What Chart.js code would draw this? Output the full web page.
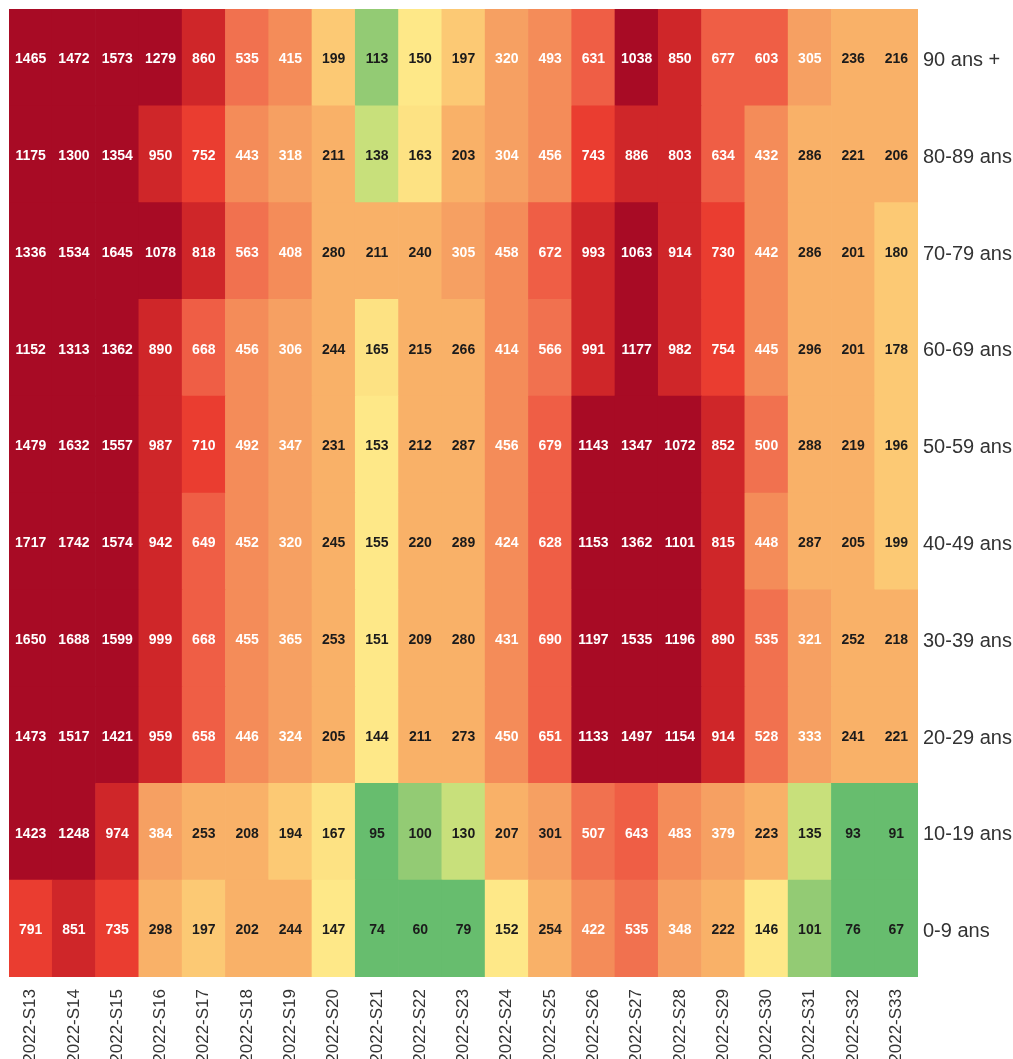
<!DOCTYPE html>
<html lang="fr">
<head>
<meta charset="utf-8">
<title>Cas par classe d'âge et par semaine</title>
<script src="https://cdn.jsdelivr.net/npm/chart.js@4.4.1/dist/chart.umd.min.js"></script>
<style>
  html, body { margin: 0; padding: 0; background: #ffffff; overflow: hidden; }
  #wrap { position: relative; width: 1013px; height: 1059px; }
</style>
</head>
<body>
<div id="wrap"><canvas id="heat"></canvas></div>
<script>
// Weeks (columns) and age groups (rows, top to bottom)
const weeks = ['2022-S13','2022-S14','2022-S15','2022-S16','2022-S17','2022-S18','2022-S19',
  '2022-S20','2022-S21','2022-S22','2022-S23','2022-S24','2022-S25','2022-S26','2022-S27',
  '2022-S28','2022-S29','2022-S30','2022-S31','2022-S32','2022-S33'];
const ageGroups = ['90 ans +','80-89 ans','70-79 ans','60-69 ans','50-59 ans',
  '40-49 ans','30-39 ans','20-29 ans','10-19 ans','0-9 ans'];

// Weekly counts per age group
const age90plus = [1465,1472,1573,1279,860,535,415,199,113,150,197,320,493,631,1038,850,677,603,305,236,216];
const age80_89  = [1175,1300,1354,950,752,443,318,211,138,163,203,304,456,743,886,803,634,432,286,221,206];
const age70_79  = [1336,1534,1645,1078,818,563,408,280,211,240,305,458,672,993,1063,914,730,442,286,201,180];
const age60_69  = [1152,1313,1362,890,668,456,306,244,165,215,266,414,566,991,1177,982,754,445,296,201,178];
const age50_59  = [1479,1632,1557,987,710,492,347,231,153,212,287,456,679,1143,1347,1072,852,500,288,219,196];
const age40_49  = [1717,1742,1574,942,649,452,320,245,155,220,289,424,628,1153,1362,1101,815,448,287,205,199];
const age30_39  = [1650,1688,1599,999,668,455,365,253,151,209,280,431,690,1197,1535,1196,890,535,321,252,218];
const age20_29  = [1473,1517,1421,959,658,446,324,205,144,211,273,450,651,1133,1497,1154,914,528,333,241,221];
const age10_19  = [1423,1248,974,384,253,208,194,167,95,100,130,207,301,507,643,483,379,223,135,93,91];
const age0_9    = [791,851,735,298,197,202,244,147,74,60,79,152,254,422,535,348,222,146,101,76,67];

const rows = [age90plus, age80_89, age70_79, age60_69, age50_59,
  age40_49, age30_39, age20_29, age10_19, age0_9];

// Binned colour scale (lower bound -> fill)
const colorBins = [
  [1000, '#a80b25'],
  [800,  '#cf2629'],
  [700,  '#ea3d30'],
  [600,  '#ef5e45'],
  [500,  '#f1714f'],
  [400,  '#f48c59'],
  [300,  '#f6a062'],
  [200,  '#f9b168'],
  [175,  '#fcc974'],
  [160,  '#fde283'],
  [140,  '#fee888'],
  [125,  '#c8e07b'],
  [100,  '#93cb74'],
  [0,    '#67bd6e']
];
const LIGHT_TEXT_FROM = 303;

function colorFor(v) {
  for (const [lo, c] of colorBins) if (v >= lo) return c;
  return colorBins[colorBins.length - 1][1];
}

// One stacked dataset per age group, bottom row first
const datasets = rows.map((vals, r) => ({
  label: ageGroups[r],
  values: vals,
  data: vals.map(() => 1),
  backgroundColor: vals.map(colorFor),
  borderWidth: 0,
  barPercentage: 1,
  categoryPercentage: 1
})).reverse();

// Writes each cell's count in its centre
const cellLabels = {
  id: 'cellLabels',
  afterDatasetsDraw(chart) {
    const ctx = chart.ctx;
    ctx.save();
    ctx.font = 'bold 14px "Liberation Sans", Arial, sans-serif';
    ctx.textAlign = 'center';
    ctx.textBaseline = 'middle';
    chart.data.datasets.forEach((ds, i) => {
      chart.getDatasetMeta(i).data.forEach((bar, j) => {
        const v = ds.values[j];
        ctx.fillStyle = v >= LIGHT_TEXT_FROM ? '#ffffff' : '#1b1b1b';
        ctx.fillText(String(v), bar.x, (bar.y + bar.base) / 2 + 2);
      });
    });
    ctx.restore();
  }
};

const bottomUpAges = ageGroups.slice().reverse();

new Chart(document.getElementById('heat'), {
  type: 'bar',
  data: { labels: weeks, datasets },
  options: {
    responsive: true,
    maintainAspectRatio: false,
    animation: false,
    layout: { padding: { left: 9, top: 9, right: 0, bottom: 0 } },
    plugins: { legend: { display: false }, tooltip: { enabled: false } },
    scales: {
      x: {
        stacked: true,
        grid: { display: false, drawTicks: false },
        border: { display: false },
        afterFit(scale) { scale.height = 82; },
        ticks: {
          autoSkip: false,
          minRotation: 90,
          maxRotation: 90,
          padding: 12,
          color: '#333333',
          font: { family: '"Liberation Sans", Arial, sans-serif', size: 17 }
        }
      },
      y: {
        stacked: true,
        position: 'right',
        min: 0,
        max: rows.length,
        grid: { display: false, drawTicks: false },
        border: { display: false },
        afterBuildTicks(axis) {
          axis.ticks = bottomUpAges.map((_, i) => ({ value: i + 0.5 }));
        },
        afterFit(scale) {
          scale.width = 95;
          scale.paddingTop = 0;
          scale.paddingBottom = 0;
        },
        ticks: {
          padding: 5,
          labelOffset: 3,
          color: '#333333',
          font: { family: '"Liberation Sans", Arial, sans-serif', size: 20 },
          callback: (value, index) => bottomUpAges[index]
        }
      }
    }
  },
  plugins: [cellLabels]
});
</script>
</body>
</html>
